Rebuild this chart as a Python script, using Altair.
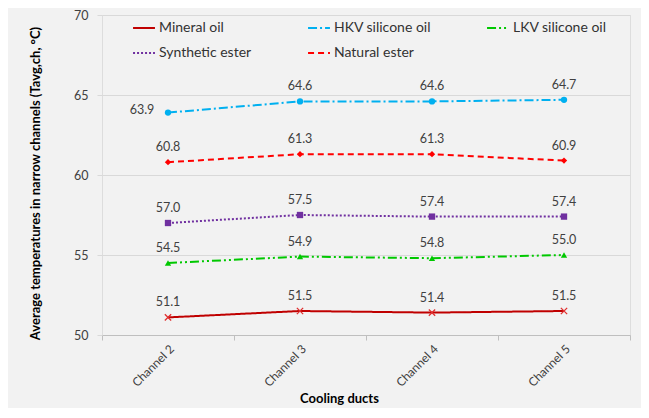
import altair as alt
import pandas as pd

channels = ["Channel 2", "Channel 3", "Channel 4", "Channel 5"]
series = ["Mineral oil", "HKV silicone oil", "LKV silicone oil", "Synthetic ester", "Natural ester"]
mineral_oil = [51.1, 51.5, 51.4, 51.5]
hkv_silicone = [63.9, 64.6, 64.6, 64.7]
lkv_silicone = [54.5, 54.9, 54.8, 55.0]
synthetic_ester = [57.0, 57.5, 57.4, 57.4]
natural_ester = [60.8, 61.3, 61.3, 60.9]

colors = ["#c00000", "#00b0f0", "#00c800", "#7030a0", "#ff0000"]
dashes = [[1, 0], [9, 3, 2, 3], [9, 3, 2, 3, 2, 3], [2, 2], [6, 4]]
shapes = ["cross", "circle", "triangle-up", "square", "diamond"]

values = [mineral_oil, hkv_silicone, lkv_silicone, synthetic_ester, natural_ester]
rows = []
for s, vals in zip(series, values):
    for c, v in zip(channels, vals):
        rows.append({"oil": s, "channel": c, "value": v})
df = pd.DataFrame(rows)

FONT = "Lato"

x_enc = alt.X("channel:N", sort=channels,
              scale=alt.Scale(type="band", paddingInner=0, paddingOuter=0),
              axis=alt.Axis(title="Cooling ducts", tickBand="extent", labelAngle=-45,
                            labelFontSize=12, labelColor="#404040", labelPadding=3,
                            domainColor="#bfbfbf", tickColor="#bfbfbf", tickSize=5,
                            grid=False, titleFontSize=13, titleFontWeight="bold",
                            titleColor="#000000", titleX=237, titleY=63,
                            titleBaseline="middle", titleAlign="center"))
y_enc = alt.Y("value:Q",
              scale=alt.Scale(domain=[50, 70], nice=False, zero=False),
              axis=alt.Axis(title="Average temperatures in narrow channels (Tavg,ch, °C)",
                            values=[50, 55, 60, 65, 70], grid=True, gridColor="#d9d9d9",
                            tickColor="#d9d9d9", tickSize=5, domain=False,
                            labelFontSize=12.5, labelColor="#404040", labelPadding=9,
                            titleFontSize=13, titleFontWeight="bold", titleColor="#000000",
                            titleX=-67, titleY=168, titleAngle=270,
                            titleAlign="center", titleBaseline="middle"))

base = alt.Chart(df)
pbase = base.transform_calculate(series_name="datum.oil")

lines = base.mark_line(strokeWidth=2).encode(
    x=x_enc, y=y_enc,
    color=alt.Color("oil:N", scale=alt.Scale(domain=series, range=colors),
                    legend=alt.Legend(title=None, orient="none", legendX=30, legendY=1,
                                      columns=3, direction="horizontal",
                                      symbolType="stroke", symbolSize=480,
                                      symbolStrokeWidth=2, labelFontSize=14,
                                      labelColor="#333333", labelFont=FONT,
                                      labelOffset=3, columnPadding=52, rowPadding=6,
                                      padding=0)),
    strokeDash=alt.StrokeDash("oil:N", scale=alt.Scale(domain=series, range=dashes),
                              legend=alt.Legend(title=None, orient="none")),
    order=alt.Order("channel:N"),
)

pts = pbase.transform_filter(alt.datum.oil != "Mineral oil").mark_point(filled=True, size=40, opacity=1).encode(
    x=x_enc, y=y_enc,
    fill=alt.Fill("series_name:N", scale=alt.Scale(domain=series, range=colors), legend=None),
    shape=alt.Shape("series_name:N", scale=alt.Scale(domain=series, range=shapes), legend=None),
)

xs = base.transform_filter(alt.datum.oil == "Mineral oil").mark_point(
    shape="M-1,-1L1,1M-1,1L1,-1", filled=False, size=40, strokeWidth=1.3, opacity=1, color="#e03030"
).encode(x=x_enc, y=y_enc)

labels = base.transform_filter(
    ~((alt.datum.oil == "HKV silicone oil") & (alt.datum.channel == "Channel 2"))
).mark_text(dy=-15, fontSize=12.5, color="#404040", font=FONT).encode(
    x=x_enc, y=y_enc, text=alt.Text("value:Q", format=".1f"))

label_left = base.transform_filter(
    (alt.datum.oil == "HKV silicone oil") & (alt.datum.channel == "Channel 2")
).mark_text(dx=-26, dy=-3, fontSize=12.5, color="#404040", font=FONT).encode(
    x=x_enc, y=y_enc, text=alt.Text("value:Q", format=".1f"))

chart = alt.layer(lines, pts, xs, labels, label_left).resolve_scale(
    fill="independent", shape="independent"
).properties(
    width=528, height=320,
    autosize=alt.AutoSizeParams(type="none"),
    padding={"left": 94, "top": 7, "right": 11, "bottom": 73},
    background="#f2f2f2",
).configure_view(fill="white", stroke=None).configure(font=FONT)

chart.save("out.html", embed_options={"renderer": "svg", "actions": False})
